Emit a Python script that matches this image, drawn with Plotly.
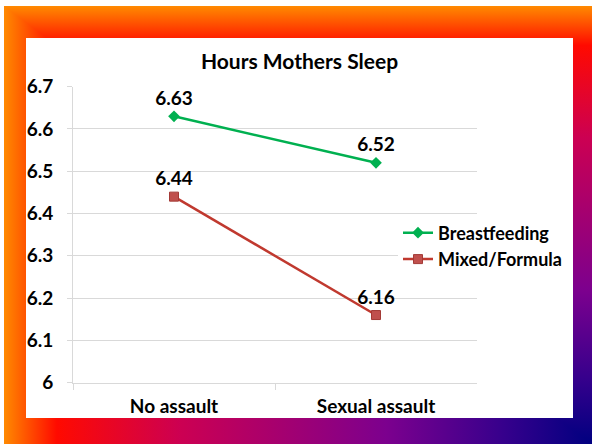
"""Hours mothers sleep - line chart on a corner-gradient frame
"""
import base64
import plotly.graph_objects as go

##### Data #####
categories = ["No assault", "Sexual assault"]
breastfeeding = [6.63, 6.52]
mixed_formula = [6.44, 6.16]
y_tickvals = [6.0, 6.1, 6.2, 6.3, 6.4, 6.5, 6.6, 6.7]
y_ticktext = ["6", "6.1", "6.2", "6.3", "6.4", "6.5", "6.6", "6.7"]

W, H = 592, 444
FONT = "Lato"


##### Helper functions #####
def frame_background():
    """Build the frame as an svg: gradient running from the top-left corner
    (orange) to the bottom-right corner (navy), white panel in the middle."""
    stops = """
        <stop offset="0" stop-color="#FF8A00"/>
        <stop offset="0.09" stop-color="#FF0A00"/>
        <stop offset="0.3" stop-color="#CC0052"/>
        <stop offset="0.65" stop-color="#7C008E"/>
        <stop offset="0.85" stop-color="#36008C"/>
        <stop offset="1" stop-color="#000080"/>"""
    svg = f"""<svg xmlns="http://www.w3.org/2000/svg" width="{W}" height="{H}" viewBox="0 0 {W} {H}">
    <defs>
      <linearGradient id="gh" gradientUnits="userSpaceOnUse" x1="4" y1="0" x2="{W}" y2="0">{stops}
      </linearGradient>
      <linearGradient id="gv" gradientUnits="userSpaceOnUse" x1="0" y1="6" x2="0" y2="{H}">{stops}
      </linearGradient>
    </defs>
    <rect x="0" y="0" width="{W}" height="{H}" fill="#FFFFFF"/>
    <rect x="4" y="6" width="{W - 4}" height="{H - 6}" fill="url(#gh)"/>
    <polygon points="4,6 {W},6 {W},{H}" fill="url(#gv)"/>
    <rect x="26" y="38" width="547" height="380" fill="#FFFFFF"/>
    </svg>"""
    return "data:image/svg+xml;base64," + base64.b64encode(svg.encode()).decode()


def px_x(v):
    return v / W


def px_y(v):
    return 1 - v / H


##### Main figure #####
fig = go.Figure()

fig.add_trace(go.Scatter(
    x=categories, y=breastfeeding, name="Breastfeeding",
    mode="lines+markers+text",
    text=[f"{v:.2f}" for v in breastfeeding], textposition="top center",
    textfont=dict(family=FONT, size=19, color="#000000", weight="bold"),
    line=dict(color="#00B050", width=2.5),
    marker=dict(symbol="diamond", size=9, color="#00B050"),
))
fig.add_trace(go.Scatter(
    x=categories, y=mixed_formula, name="Mixed/Formula",
    mode="lines+markers+text",
    text=[f"{v:.2f}" for v in mixed_formula], textposition="top center",
    textfont=dict(family=FONT, size=19, color="#000000", weight="bold"),
    line=dict(color="#C0392F", width=2.5),
    marker=dict(symbol="square", size=9, color="#C0504D",
                line=dict(color="#A33A36", width=1)),
))

grid = "#D9D9D9"
fig.update_layout(
    width=W, height=H,
    margin=dict(l=0, r=0, t=0, b=0),
    paper_bgcolor="#FFFFFF",
    plot_bgcolor="rgba(0,0,0,0)",
    font=dict(family=FONT, size=19, color="#000000"),
    title=dict(text="Hours Mothers Sleep", x=px_x(299.5), y=px_y(62),
               xanchor="center", yanchor="middle",
               font=dict(family=FONT, size=21, color="#000000", weight="bold")),
    xaxis=dict(domain=[px_x(73), px_x(477)], automargin=False,
               range=[-0.5, 1.5],
               showgrid=False, showline=True, linecolor=grid, linewidth=1,
               ticks="outside", tickson="boundaries", ticklen=6, tickcolor=grid,
               tickfont=dict(family=FONT, size=19, weight="bold"),
               ticklabelstandoff=6),
    yaxis=dict(domain=[px_y(382.7), px_y(86.7)], range=[6, 6.7], automargin=False,
               tickvals=y_tickvals, ticktext=y_ticktext,
               showgrid=True, gridcolor=grid, gridwidth=1,
               showline=True, linecolor=grid, linewidth=1,
               ticks="outside", ticklen=5, tickcolor=grid, zeroline=False,
               tickfont=dict(family=FONT, size=19, weight="bold"),
               ticklabelstandoff=10),
    legend=dict(x=px_x(398), y=px_y(246), xanchor="left", yanchor="middle",
                bgcolor="#FFFFFF", itemwidth=30, borderwidth=0,
                font=dict(family=FONT, size=18, color="#000000", weight="bold")),
    images=[dict(source=frame_background(), xref="paper", yref="paper",
                 x=0, y=1, sizex=1, sizey=1, sizing="stretch",
                 xanchor="left", yanchor="top", layer="below")],
)

# the page body has a default margin; drop it so the figure sits at 0,0
fig.write_html("out.html", config={"displayModeBar": False},
               post_script="document.body.style.margin='0';")
